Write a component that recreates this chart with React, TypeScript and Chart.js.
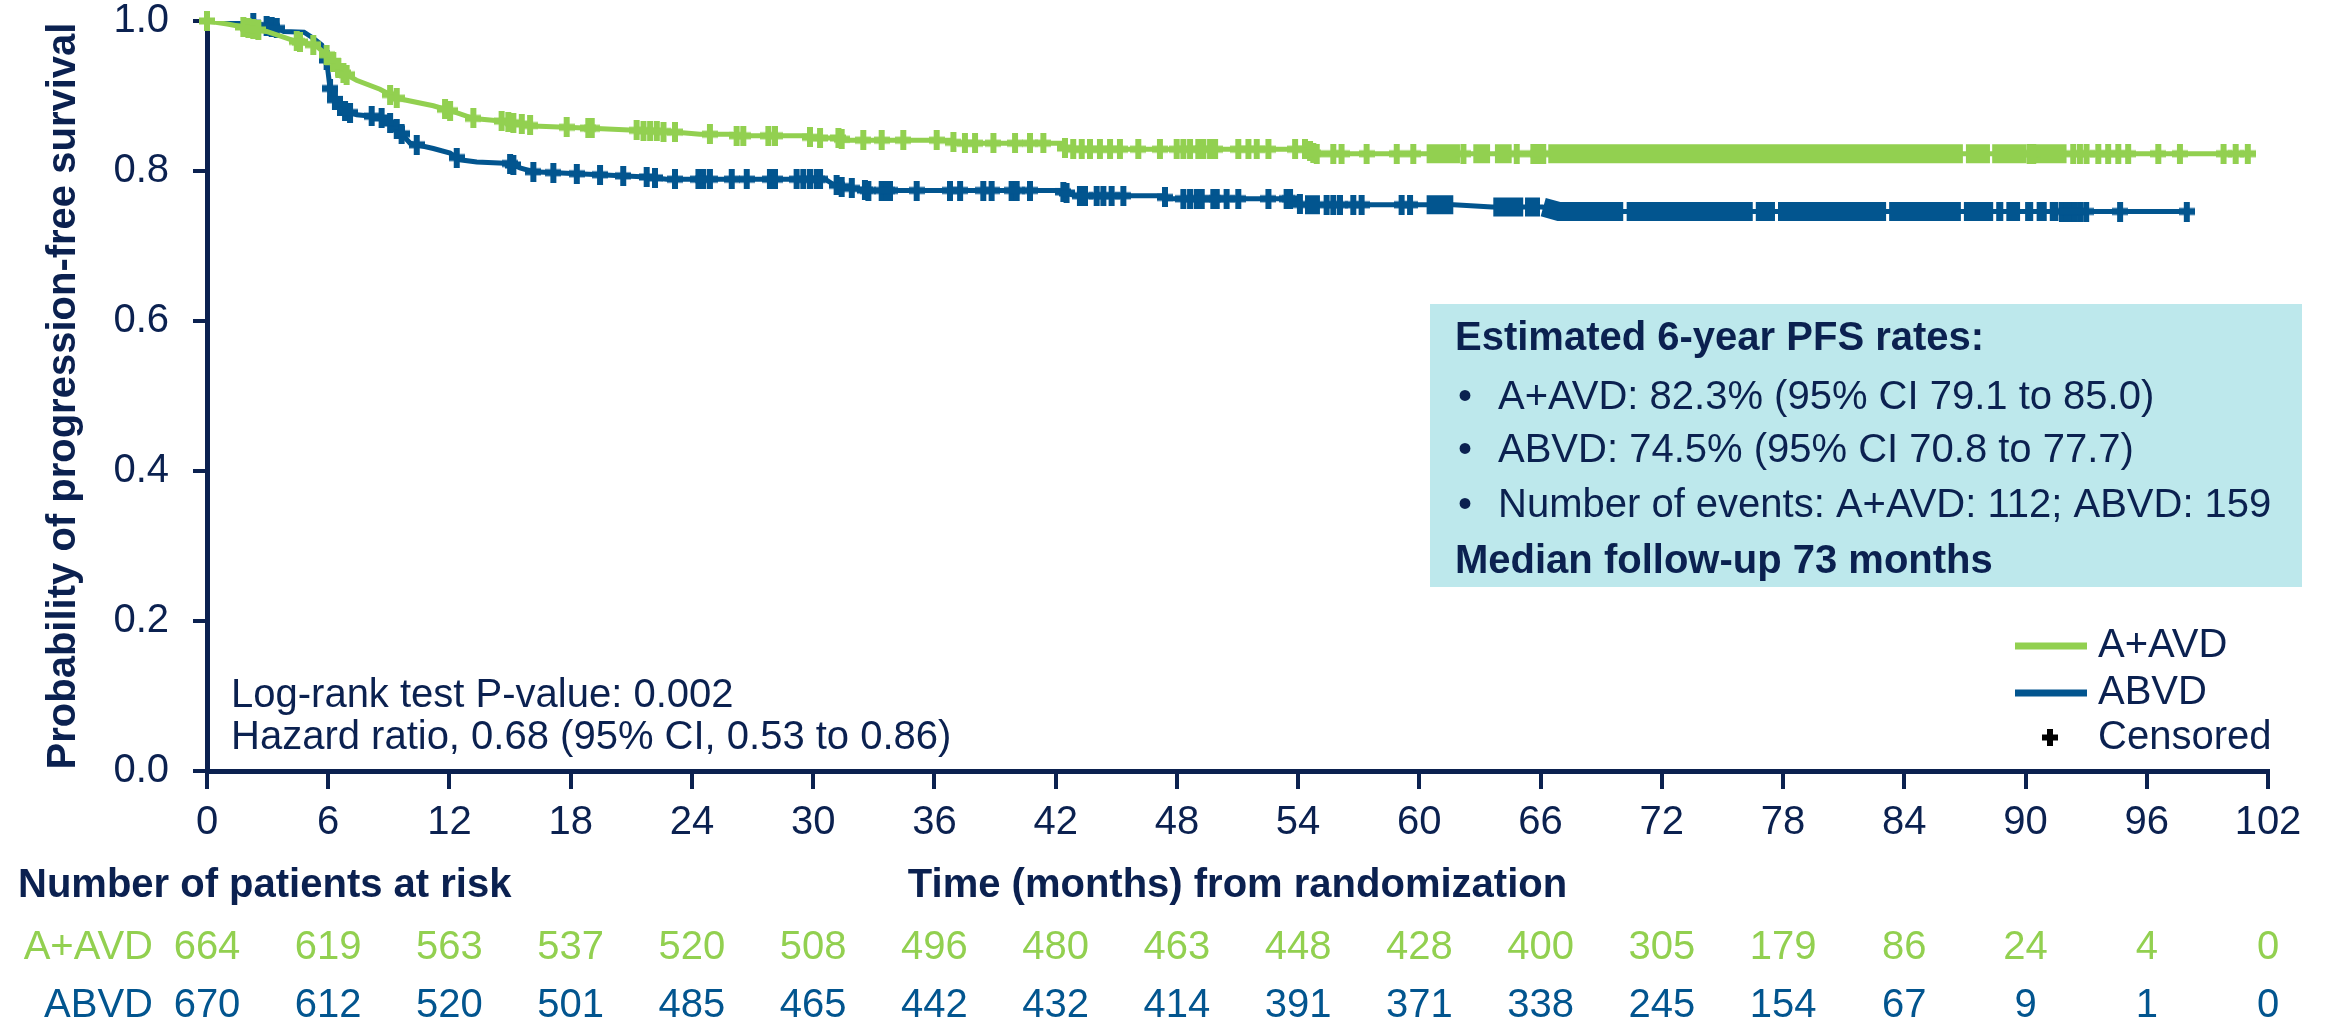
import React, { useEffect, useRef } from 'react';
import { Chart, registerables } from 'chart.js';

Chart.register(...registerables);

const NAVY = '#0b2150';
const GREEN = '#92d050';
const BLUE = '#02558f';
const BOX = '#bde8ec';
const FONT = '"Liberation Sans", Arial, Helvetica, sans-serif';

// Kaplan-Meier curves (months, survival probability)
const greenTimes = [0, 1.0, 1.8, 2.95, 4.4, 5.35, 5.84, 6.25, 6.66, 7.4, 8.56, 9.4, 11.2, 12.2, 13.2, 14.8, 16.15, 19.0, 23.1, 24.4, 26.0, 26.2, 29.7, 29.9, 31.3, 31.5, 36.8, 37.0, 42.3, 42.5, 54.4, 54.8, 101.0];
const greenSurv = [1.0, 0.996, 0.992, 0.986, 0.973, 0.968, 0.957, 0.946, 0.932, 0.921, 0.909, 0.897, 0.887, 0.879, 0.870, 0.866, 0.860, 0.857, 0.852, 0.849, 0.849, 0.847, 0.847, 0.844, 0.844, 0.841, 0.841, 0.837, 0.837, 0.829, 0.829, 0.823, 0.823];

const blueTimes = [0, 2.3, 3.3, 3.8, 4.8, 5.26, 5.68, 5.92, 6.09, 6.33, 6.75, 7.41, 8.56, 9.06, 9.55, 10.05, 11.2, 12.03, 12.52, 13.35, 15.0, 15.49, 16.15, 19.45, 21.76, 22.75, 30.6, 31.0, 31.6, 32.7, 42.2, 42.6, 43.0, 47.3, 47.5, 53.9, 54.1, 61.7, 63.6, 66.1, 66.9, 98.2];
const blueSurv = [1.0, 0.997, 0.992, 0.986, 0.985, 0.977, 0.968, 0.948, 0.910, 0.895, 0.881, 0.875, 0.872, 0.864, 0.852, 0.837, 0.830, 0.824, 0.815, 0.812, 0.810, 0.804, 0.799, 0.795, 0.792, 0.789, 0.789, 0.782, 0.778, 0.774, 0.774, 0.770, 0.767, 0.767, 0.763, 0.763, 0.755, 0.755, 0.752, 0.752, 0.746, 0.746];

// Individual censoring times (months)
const greenCensor = [0.0, 1.8, 2.05, 2.29, 2.54, 4.44, 4.6, 5.26, 5.92, 6.25, 6.5, 6.75, 6.91, 9.06, 9.39, 11.78, 12.03, 13.18, 14.58, 14.91, 15.16, 15.58, 15.99, 17.8, 18.87, 19.04, 21.26, 21.6, 21.93, 22.26, 22.59, 23.16, 24.89, 26.21, 26.54, 27.78, 28.11, 29.84, 30.34, 31.25, 31.41, 32.48, 33.39, 34.46, 36.11, 36.94, 37.51, 38.01, 38.92, 39.99, 40.73, 41.39, 42.46, 42.87, 43.29, 43.7, 44.19, 44.69, 45.18, 46.09, 47.16, 47.99, 48.32, 48.65, 49.06, 49.31, 49.64, 49.89, 51.04, 51.54, 51.95, 52.53, 53.85, 54.34, 54.59, 54.75, 54.92, 55.74, 56.15, 57.39, 58.88, 59.7, 62.18, 64.82, 65.64, 65.89, 66.13, 90.2, 90.38, 92.36, 92.69, 93.02, 93.6, 94.09, 94.59, 95.08, 96.57, 97.64, 99.8, 100.4, 101.0];
const blueCensor = [2.29, 2.95, 3.2, 3.45, 5.92, 6.09, 6.33, 6.58, 6.83, 7.08, 8.15, 8.64, 9.06, 9.39, 9.63, 10.38, 12.36, 15.0, 15.16, 16.15, 17.14, 18.3, 19.45, 20.6, 21.76, 22.17, 23.16, 24.32, 24.56, 24.89, 25.97, 26.71, 27.86, 28.11, 29.18, 29.51, 29.84, 30.17, 30.34, 31.16, 31.41, 31.91, 32.56, 32.73, 33.39, 33.64, 33.8, 35.12, 36.77, 37.27, 38.42, 38.83, 39.82, 40.07, 40.73, 42.38, 42.54, 43.2, 43.45, 44.03, 44.36, 44.77, 45.35, 47.41, 48.32, 48.65, 48.98, 49.23, 49.8, 49.97, 50.46, 51.04, 52.53, 53.43, 53.6, 54.09, 55.41, 55.74, 56.07, 56.73, 57.14, 59.12, 59.54, 91.8, 92.03, 92.2, 92.44, 92.7, 93.0, 94.68, 97.98];

// Spans where censor marks merge into a solid band (months)
const greenBandStart = [60.36, 62.67, 63.74, 66.38, 87.05, 88.35, 90.5];
const greenBandEnd = [62.01, 63.5, 64.57, 86.9, 88.24, 90.05, 92.03];
const blueBandStart = [54.34, 60.36, 63.66, 65.23, 66.13, 70.26, 76.65, 77.75, 83.25, 86.95, 88.55, 89.05, 89.98, 90.55, 91.2];
const blueBandEnd = [55.08, 61.68, 65.14, 65.97, 70.09, 76.5, 77.6, 83.1, 86.8, 88.4, 88.9, 89.73, 90.38, 91.05, 91.63];

// Number at risk table
const riskTimes = [0, 6, 12, 18, 24, 30, 36, 42, 48, 54, 60, 66, 72, 78, 84, 90, 96, 102];
const riskGreen = [664, 619, 563, 537, 520, 508, 496, 480, 463, 448, 428, 400, 305, 179, 86, 24, 4, 0];
const riskBlue = [670, 612, 520, 501, 485, 465, 442, 432, 414, 391, 371, 338, 245, 154, 67, 9, 1, 0];

function survAt(times: number[], vals: number[], t: number): number {
  if (t <= times[0]) return vals[0];
  for (let i = 1; i < times.length; i++) {
    if (t <= times[i]) {
      const f = (t - times[i - 1]) / (times[i] - times[i - 1]);
      return vals[i - 1] + f * (vals[i] - vals[i - 1]);
    }
  }
  return vals[vals.length - 1];
}

function curveData(times: number[], vals: number[]) {
  return times.map((t, i) => ({ x: t, y: vals[i] }));
}

function censorData(censor: number[], times: number[], vals: number[]) {
  return censor.map((t) => ({ x: t, y: survAt(times, vals, t) }));
}

function bandData(starts: number[], ends: number[], times: number[], vals: number[]) {
  const out: { x: number; y: number | null }[] = [];
  starts.forEach((a, i) => {
    const b = ends[i];
    out.push({ x: a, y: survAt(times, vals, a) });
    times.forEach((t, j) => {
      if (t > a && t < b) out.push({ x: t, y: vals[j] });
    });
    out.push({ x: b, y: survAt(times, vals, b) });
    out.push({ x: b, y: null });
  });
  return out;
}

function makeCross(color: string): HTMLCanvasElement {
  const c = document.createElement('canvas');
  c.width = 16;
  c.height = 20;
  const g = c.getContext('2d')!;
  g.fillStyle = color;
  g.fillRect(5, 0, 6, 20);
  g.fillRect(0, 6.5, 16, 7);
  return c;
}

const overlay = {
  id: 'overlay',
  afterDraw(chart: any) {
    const ctx: CanvasRenderingContext2D = chart.ctx;
    const xs = chart.scales.x;
    ctx.save();
    ctx.textBaseline = 'middle';

    // statistics annotation
    ctx.fillStyle = NAVY;
    ctx.textAlign = 'left';
    ctx.font = `40px ${FONT}`;
    ctx.fillText('Log-rank test P-value: 0.002', 231, 696);
    ctx.fillText('Hazard ratio, 0.68 (95% CI, 0.53 to 0.86)', 231, 738);

    // info box
    ctx.fillStyle = BOX;
    ctx.fillRect(1430, 304, 872, 283);
    ctx.fillStyle = NAVY;
    ctx.font = `bold 40px ${FONT}`;
    ctx.fillText('Estimated 6-year PFS rates:', 1455, 339);
    ctx.fillText('Median follow-up 73 months', 1455, 562);
    ctx.font = `40px ${FONT}`;
    const bullets = [
      'A+AVD: 82.3% (95% CI 79.1 to 85.0)',
      'ABVD: 74.5% (95% CI 70.8 to 77.7)',
      'Number of events: A+AVD: 112; ABVD: 159',
    ];
    const by = [398, 451, 506];
    bullets.forEach((b, i) => {
      ctx.fillText('•', 1458, by[i]);
      ctx.fillText(b, 1498, by[i]);
    });

    // legend
    ctx.lineWidth = 7;
    ctx.lineCap = 'butt';
    ctx.strokeStyle = GREEN;
    ctx.beginPath();
    ctx.moveTo(2015, 646);
    ctx.lineTo(2087, 646);
    ctx.stroke();
    ctx.strokeStyle = BLUE;
    ctx.beginPath();
    ctx.moveTo(2015, 693);
    ctx.lineTo(2087, 693);
    ctx.stroke();
    ctx.fillStyle = '#000000';
    ctx.fillRect(2047, 729, 6, 17);
    ctx.fillRect(2042, 734.5, 16, 6);
    ctx.fillStyle = NAVY;
    ctx.fillText('A+AVD', 2098, 646);
    ctx.fillText('ABVD', 2098, 693);
    ctx.fillText('Censored', 2098, 738);

    // risk table
    ctx.font = `bold 40px ${FONT}`;
    ctx.textAlign = 'left';
    ctx.fillText('Number of patients at risk', 18, 886);
    ctx.textAlign = 'center';
    ctx.fillText('Time (months) from randomization', (xs.left + xs.right) / 2, 886);

    ctx.font = `40px ${FONT}`;
    ctx.textAlign = 'right';
    ctx.fillStyle = GREEN;
    ctx.fillText('A+AVD', 153, 948);
    ctx.fillStyle = BLUE;
    ctx.fillText('ABVD', 153, 1006);
    ctx.textAlign = 'center';
    riskTimes.forEach((t, i) => {
      const px = xs.getPixelForValue(t);
      ctx.fillStyle = GREEN;
      ctx.fillText(String(riskGreen[i]), px, 948);
      ctx.fillStyle = BLUE;
      ctx.fillText(String(riskBlue[i]), px, 1006);
    });
    ctx.restore();
  },
};

export default function App() {
  const ref = useRef<HTMLCanvasElement>(null);

  useEffect(() => {
    document.body.style.margin = '0';
    const canvas = ref.current!;
    const gCross = makeCross(GREEN);
    const bCross = makeCross(BLUE);

    const chart = new Chart(canvas, {
      type: 'line',
      data: {
        datasets: [
          {
            label: 'A+AVD censored',
            data: censorData(greenCensor, greenTimes, greenSurv),
            showLine: false,
            pointStyle: gCross as any,
            pointRadius: 8,
            clip: false as any,
          },
          {
            label: 'A+AVD band',
            data: bandData(greenBandStart, greenBandEnd, greenTimes, greenSurv) as any,
            borderColor: GREEN,
            borderWidth: 19,
            borderCapStyle: 'butt',
            pointRadius: 0,
            spanGaps: false,
            clip: false as any,
          },
          {
            label: 'A+AVD',
            data: curveData(greenTimes, greenSurv),
            borderColor: GREEN,
            borderWidth: 5,
            pointRadius: 0,
            tension: 0,
          },
          {
            label: 'ABVD censored',
            data: censorData(blueCensor, blueTimes, blueSurv),
            showLine: false,
            pointStyle: bCross as any,
            pointRadius: 8,
            clip: false as any,
          },
          {
            label: 'ABVD band',
            data: bandData(blueBandStart, blueBandEnd, blueTimes, blueSurv) as any,
            borderColor: BLUE,
            borderWidth: 19,
            borderCapStyle: 'butt',
            pointRadius: 0,
            spanGaps: false,
            clip: false as any,
          },
          {
            label: 'ABVD',
            data: curveData(blueTimes, blueSurv),
            borderColor: BLUE,
            borderWidth: 5,
            pointRadius: 0,
            tension: 0,
          },
        ],
      },
      options: {
        responsive: false,
        animation: false,
        devicePixelRatio: 1,
        events: [],
        layout: { padding: { left: 0, right: 65, top: 21, bottom: 0 } },
        plugins: {
          legend: { display: false },
          tooltip: { enabled: false },
        },
        scales: {
          x: {
            type: 'linear',
            min: 0,
            max: 102,
            position: 'bottom',
            afterFit: (s: any) => {
              s.height = 250;
            },
            ticks: {
              stepSize: 6,
              autoSkip: false,
              maxRotation: 0,
              color: NAVY,
              padding: 14,
              font: { family: FONT, size: 40, lineHeight: 1 },
            },
            grid: {
              drawOnChartArea: false,
              drawTicks: true,
              tickLength: 18,
              color: NAVY,
              lineWidth: 4,
            },
            border: { display: true, color: NAVY, width: 5 },
          },
          y: {
            type: 'linear',
            min: 0,
            max: 1,
            afterFit: (s: any) => {
              s.width = 207;
              s.paddingTop = 0;
              s.paddingBottom = 0;
            },
            ticks: {
              stepSize: 0.2,
              callback: (v: any) => Number(v).toFixed(1),
              color: NAVY,
              padding: 24,
              font: { family: FONT, size: 40, lineHeight: 1 },
            },
            grid: {
              drawOnChartArea: false,
              drawTicks: true,
              tickLength: 14,
              color: NAVY,
              lineWidth: 4,
            },
            border: { display: true, color: NAVY, width: 5 },
            title: {
              display: true,
              text: 'Probability of progression-free survival',
              color: NAVY,
              font: { family: FONT, size: 40, weight: 'bold' },
              padding: { top: 40, bottom: 0 },
            },
          },
        },
      },
      plugins: [overlay],
    });

    return () => chart.destroy();
  }, []);

  return (
    <canvas
      ref={ref}
      width={2333}
      height={1021}
      style={{ display: 'block', width: '2333px', height: '1021px' }}
    />
  );
}
